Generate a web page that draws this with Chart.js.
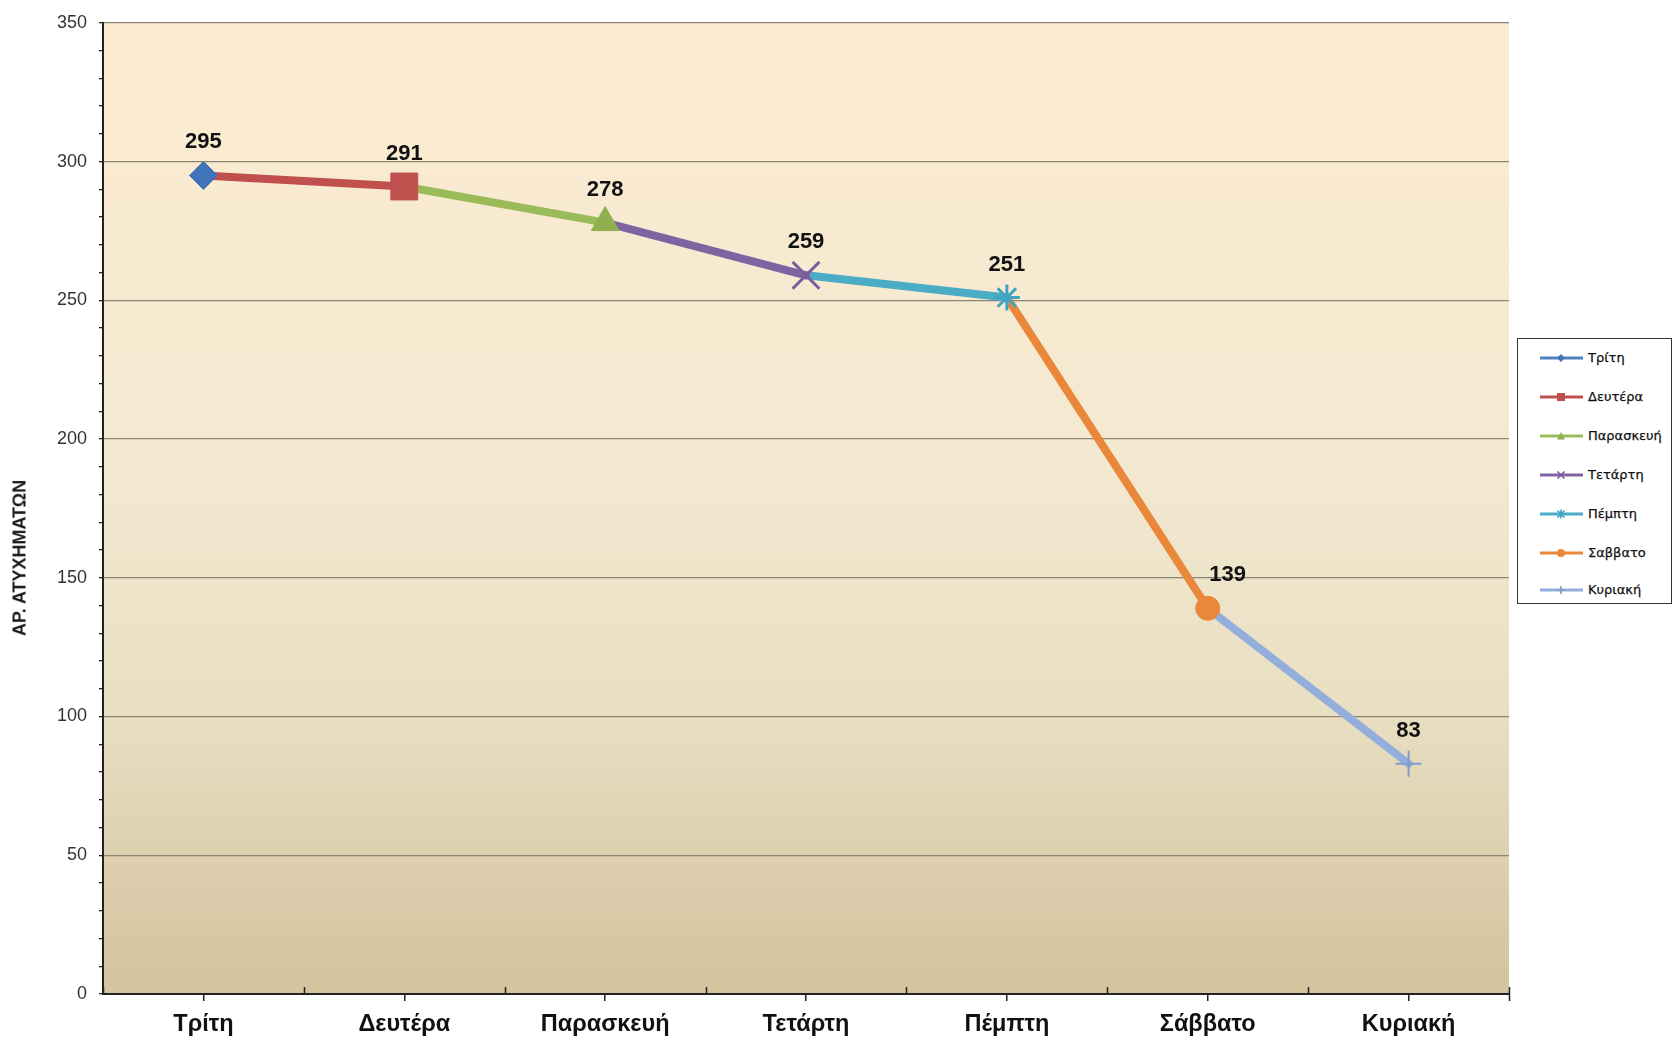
<!DOCTYPE html>
<html>
<head>
<meta charset="utf-8">
<script src="https://cdn.jsdelivr.net/npm/chart.js@4.4.1/dist/chart.umd.min.js"></script>
<style>
  html, body { margin: 0; padding: 0; background: #ffffff; }
  #wrap { position: relative; width: 1675px; height: 1038px; overflow: hidden; }
  #c { position: absolute; left: 0; top: 0; }
  #ytitle {
    position: absolute; left: 20px; top: 558px;
    transform: translate(-50%, -50%) rotate(-90deg);
    font: bold 18px "Liberation Sans", Arial, sans-serif; color: #1a1a1a; white-space: nowrap;
  }
  #legend {
    position: absolute; left: 1517px; top: 338px; width: 155px; height: 266px;
    border: 1px solid #333; background: #fff; box-sizing: border-box;
  }
  .item { position: absolute; left: 0; width: 154px; height: 20px; }
  .item svg { position: absolute; left: 22px; top: 0; }
  .item span {
    position: absolute; left: 70px; top: 2px;
    font: 13px "DejaVu Sans", sans-serif; color: #111; white-space: nowrap; line-height: 16px;
    -webkit-text-stroke: 0.25px #111;
  }
</style>
</head>
<body>
<div id="wrap">
  <canvas id="c" width="1675" height="1038"></canvas>
  <div id="ytitle">ΑΡ. ΑΤΥΧΗΜΑΤΩΝ</div>
  <div id="legend"></div>
</div>
<script>
// ---- data ----
const categories = ['Τρίτη', 'Δευτέρα', 'Παρασκευή', 'Τετάρτη', 'Πέμπτη', 'Σάββατο', 'Κυριακή'];
const seriesNames = ['Τρίτη', 'Δευτέρα', 'Παρασκευή', 'Τετάρτη', 'Πέμπτη', 'Σαββατο', 'Κυριακή'];
const values = [295, 291, 278, 259, 251, 139, 83];
const yMin = 0;
const yMax = 350;
const yMajorStep = 50;
const yMinorStep = 10;
const axisTitle = 'ΑΡ. ΑΤΥΧΗΜΑΤΩΝ';

// ---- styles ----
const lineColors   = ['#4F81BD', '#C0504D', '#9BBB59', '#8064A2', '#4BACC6', '#E9883B', '#93AEDB'];
const markerColors = ['#3F74B8', '#C0504D', '#8FB04F', '#7A5E9C', '#3FA5C2', '#E9883B', '#7F9CCB'];
const markerStyles = ['rectRot', 'rect', 'triangle', 'crossRot', 'star', 'circle', 'cross'];
const markerRadii  = [14, 19, 16, 19, 13, 12, 13];
const markerBorder = [1, 1, 1, 3, 3, 1, 2];
const labelDx      = [0, 0, 0, 0, 0, 20, 0];

document.getElementById('ytitle').textContent = axisTitle;

const datasets = categories.map((name, i) => {
  const data = categories.map(() => null);
  data[i] = values[i];
  if (i > 0) data[i - 1] = values[i - 1];
  return {
    label: seriesNames[i],
    data: data,
    borderColor: lineColors[i],
    backgroundColor: markerColors[i],
    borderWidth: 8,
    borderCapStyle: 'round',
    tension: 0,
    spanGaps: false,
    pointStyle: markerStyles[i],
    pointRadius: ctx => ctx.dataIndex === i ? markerRadii[i] : 0,
    pointHoverRadius: ctx => ctx.dataIndex === i ? markerRadii[i] : 0,
    pointBorderWidth: markerBorder[i],
    pointBorderColor: markerColors[i],
    pointBackgroundColor: markerColors[i],
    markerIndex: i
  };
});

const bgPlugin = {
  id: 'bg',
  beforeDraw(chart) {
    const { ctx, chartArea: a } = chart;
    const g = ctx.createLinearGradient(0, a.top, 0, a.bottom);
    g.addColorStop(0, '#FCEBD0');
    g.addColorStop(0.45, '#F3E9D1');
    g.addColorStop(0.7, '#E9DFC3');
    g.addColorStop(1, '#D3C39E');
    ctx.save();
    ctx.fillStyle = g;
    ctx.fillRect(a.left, a.top, a.right - a.left, a.bottom - a.top);
    ctx.restore();
  }
};

const axisTickPlugin = {
  id: 'axisTicks',
  afterDraw(chart) {
    const { ctx } = chart;
    const x = chart.scales.x;
    const bottom = chart.chartArea.bottom;
    ctx.save();
    ctx.strokeStyle = '#222';
    ctx.lineWidth = 1.5;
    const half = (x.getPixelForValue(1) - x.getPixelForValue(0)) / 2;
    for (let i = 0; i <= categories.length; i++) {
      const px = Math.round(x.getPixelForValue(i) - half) + 0.5;
      ctx.beginPath();
      ctx.moveTo(px, bottom - 7);
      ctx.lineTo(px, bottom + (i === categories.length ? 7 : 0));
      ctx.stroke();
    }
    ctx.restore();
  }
};

const labelPlugin = {
  id: 'dataLabels',
  afterDatasetsDraw(chart) {
    const { ctx } = chart;
    ctx.save();
    ctx.font = 'bold 22px "Liberation Sans", Arial, sans-serif';
    ctx.fillStyle = '#111';
    ctx.textAlign = 'center';
    ctx.textBaseline = 'middle';
    chart.data.datasets.forEach((ds, di) => {
      const meta = chart.getDatasetMeta(di);
      const i = ds.markerIndex;
      const el = meta.data[i];
      ctx.fillText(String(values[i]), el.x + labelDx[i], el.y - 33);
    });
    ctx.restore();
  }
};

new Chart(document.getElementById('c'), {
  type: 'line',
  data: { labels: categories, datasets: datasets },
  options: {
    responsive: false,
    animation: false,
    layout: { padding: { left: 0, right: 166, top: 21, bottom: 0 } },
    plugins: { legend: { display: false }, tooltip: { enabled: false } },
    scales: {
      x: {
        type: 'category',
        offset: true,
        grid: { display: true, drawOnChartArea: false, drawTicks: true, tickLength: 7, offset: false, color: '#222', lineWidth: 1.5 },
        border: { display: true, color: '#222', width: 2 },
        ticks: {
          font: { family: '"Liberation Sans", Arial, sans-serif', size: 23.5, weight: 'bold' },
          color: '#111', padding: 9, maxRotation: 0, autoSkip: false
        },
        afterFit: s => { s.height = 44; }
      },
      y: {
        min: yMin, max: yMax,
        ticks: {
          stepSize: yMinorStep, autoSkip: false,
          callback: v => (Math.round(v) % yMajorStep === 0 ? String(Math.round(v)) : ''),
          font: { family: '"Liberation Sans", Arial, sans-serif', size: 18 },
          color: '#333', padding: 12
        },
        grid: {
          color: c => (c.tick && Math.round(c.tick.value) % yMajorStep === 0 && c.tick.value > 0 ? '#8C8576' : 'rgba(0,0,0,0)'),
          tickColor: '#222',
          tickLength: 4,
          lineWidth: 1.3
        },
        border: { color: '#222', width: 2 },
        afterFit: s => { s.width = 103; }
      }
    }
  },
  plugins: [bgPlugin, axisTickPlugin, labelPlugin]
});

// ---- HTML legend ----
function markerSvg(style, color) {
  const cx = 21, cy = 10;
  switch (style) {
    case 'rectRot': return `<polygon points="${cx},${cy-4} ${cx+4},${cy} ${cx},${cy+4} ${cx-4},${cy}" fill="${color}"/>`;
    case 'rect': return `<rect x="${cx-4}" y="${cy-4}" width="8" height="8" fill="${color}"/>`;
    case 'triangle': return `<polygon points="${cx},${cy-4} ${cx+4},${cy+3.5} ${cx-4},${cy+3.5}" fill="${color}"/>`;
    case 'crossRot': return `<path d="M${cx-3.5},${cy-3.5}L${cx+3.5},${cy+3.5}M${cx+3.5},${cy-3.5}L${cx-3.5},${cy+3.5}" stroke="${color}" stroke-width="1.6"/>`;
    case 'star': return `<path d="M${cx-3.5},${cy-3.5}L${cx+3.5},${cy+3.5}M${cx+3.5},${cy-3.5}L${cx-3.5},${cy+3.5}M${cx},${cy-4.5}L${cx},${cy+4.5}" stroke="${color}" stroke-width="1.6"/>`;
    case 'circle': return `<circle cx="${cx}" cy="${cy}" r="4" fill="${color}"/>`;
    case 'cross': return `<path d="M${cx-4},${cy}L${cx+4},${cy}M${cx},${cy-4}L${cx},${cy+4}" stroke="${color}" stroke-width="1.6"/>`;
  }
  return '';
}
const legend = document.getElementById('legend');
const legendTops = [9, 48, 87, 126, 165, 204, 241];
seriesNames.forEach((name, i) => {
  const d = document.createElement('div');
  d.className = 'item';
  d.style.top = legendTops[i] + 'px';
  d.innerHTML = `<svg width="44" height="20" viewBox="0 0 44 20"><line x1="0" y1="10" x2="43" y2="10" stroke="${lineColors[i]}" stroke-width="3"/>${markerSvg(markerStyles[i], markerColors[i])}</svg><span></span>`;
  d.querySelector('span').textContent = name;
  legend.appendChild(d);
});
</script>
</body>
</html>
